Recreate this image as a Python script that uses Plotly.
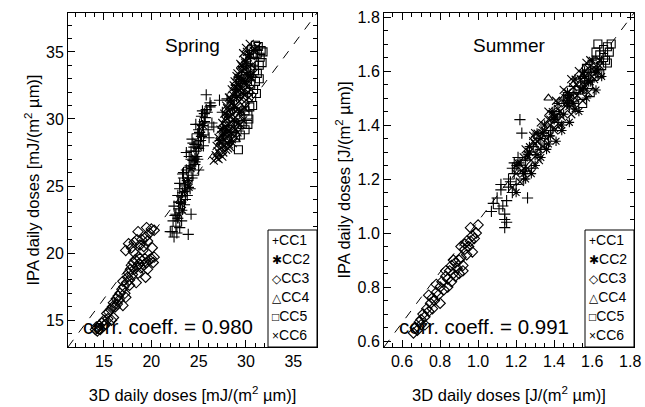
import plotly.graph_objects as go

# ---------------- data ----------------
series_names = ["CC1", "CC2", "CC3", "CC4", "CC5", "CC6"]
symbols = ["cross-thin-open", "asterisk-open", "diamond-open", "triangle-up-open", "square-open", "x-thin-open"]
legend_glyphs = ["+", "\u2731", "\u25C7", "\u25B3", "\u25A1", "\u00D7"]

spring_x_range = [11.2, 37.5]
spring_y_range = [13.0, 37.9]
summer_x_range = [0.505, 1.82]
summer_y_range = [0.578, 1.815]

spring_cc1_x = [22.4, 22.6, 22.8, 22.7, 23.0, 23.1, 23.2, 23.3, 23.0, 23.5, 23.6, 23.4, 23.8, 23.9, 24.0, 24.1, 24.2, 23.7,
                24.4, 24.5, 24.3, 24.6, 24.8, 24.9, 25.0, 24.7, 25.2, 25.3, 25.1, 25.5, 25.4, 25.6, 25.8, 25.7, 26.0, 26.2,
                26.4, 26.1, 25.9, 26.6, 27.2, 23.9, 22.9, 24.2, 25.0, 27.5, 28.0, 28.4, 29.0, 29.5, 30.0, 28.8, 27.8,
                22.5, 23.4, 24.0, 24.4, 25.1, 25.6, 26.3, 22.2, 23.0,
                22.0, 22.3, 22.6, 22.9, 23.2, 23.5, 23.8, 24.1, 24.4, 24.7, 25.0, 25.3, 25.6, 22.4, 22.8, 23.3, 23.7, 24.2,
                24.6, 25.0, 25.4, 25.8, 26.2, 23.0, 23.6, 24.3, 24.9, 25.5]
spring_cc1_y = [21.2, 22.0, 22.6, 21.5, 23.0, 23.8, 22.4, 24.5, 25.2, 23.6, 25.0, 26.0, 24.3, 25.6, 26.4, 24.8, 27.0, 27.5,
                25.8, 27.9, 28.5, 26.6, 27.2, 28.9, 27.8, 29.6, 28.4, 30.2, 29.0, 28.8, 30.6, 29.8, 31.8, 30.1, 29.2, 30.9,
                29.7, 28.6, 30.5, 29.4, 31.4, 21.4, 23.3, 22.9, 26.2, 30.5, 31.5, 29.0, 32.5, 33.0, 34.0, 30.8, 28.2,
                22.8, 25.6, 27.2, 28.2, 29.6, 30.4, 31.0, 21.6, 21.9,
                21.6, 22.4, 22.9, 23.8, 24.2, 25.1, 25.4, 26.5, 26.9, 27.6, 28.3, 28.7, 29.8, 23.5, 24.3, 25.9, 26.2, 27.6,
                28.1, 29.2, 29.5, 30.7, 31.2, 24.8, 24.0, 25.6, 27.0, 28.0]
spring_cc2_x = [22.8, 23.1, 23.5, 23.9, 24.2, 24.6, 25.0, 25.3, 23.3, 24.0, 24.7, 25.5, 27.6, 28.1, 28.6, 29.0, 29.4, 28.3,
                28.8, 29.3, 29.7, 30.2, 27.9, 29.9, 27.2, 27.5, 28.0, 28.4, 28.9, 29.2, 29.6, 30.0, 30.3, 30.6]
spring_cc2_y = [22.6, 23.7, 24.6, 25.4, 26.3, 27.1, 27.9, 28.8, 23.2, 24.9, 26.8, 29.5, 28.8, 29.5, 30.8, 31.6, 32.4, 28.3,
                29.8, 30.5, 31.9, 33.3, 29.2, 32.8, 28.4, 29.3, 30.3, 31.4, 32.2, 33.1, 33.9, 34.3, 34.8, 33.1]
spring_cc3_x = [14.1, 14.3, 14.3, 14.5, 14.2, 14.6, 14.8, 15.0, 15.2, 15.3, 15.5, 15.4, 15.7, 15.9, 15.8, 16.0, 16.2, 16.3,
                16.5, 16.4, 16.7, 16.9, 16.6, 17.0, 17.1, 17.2, 17.4, 17.5, 17.3, 17.6, 17.8, 17.7, 17.9, 18.0, 18.1, 18.2,
                18.3, 18.4, 18.5, 18.6, 18.7, 18.8, 18.9, 19.0, 19.2, 19.3, 19.5, 19.6, 19.8, 20.0, 20.2, 20.3, 19.4, 17.0,
                17.3, 17.6, 17.9, 18.2, 18.5, 18.8, 19.0, 19.2, 19.4, 19.6, 19.8, 20.0, 20.3, 18.6, 19.5, 18.1, 19.1, 20.1,
                16.0, 15.0, 17.7, 27.4, 28.0]
spring_cc3_y = [14.3, 14.2, 14.4, 14.6, 14.5, 14.3, 14.8, 15.0, 14.7, 15.5, 15.6, 15.1, 15.8, 16.0, 15.0, 16.3, 16.0, 16.6,
                16.8, 16.2, 17.0, 17.3, 16.5, 16.1, 17.5, 17.0, 17.8, 18.2, 16.7, 18.5, 18.8, 18.0, 19.1, 18.4, 19.3, 18.8,
                19.5, 17.8, 19.0, 18.5, 19.2, 19.6, 18.9, 19.4, 19.1, 19.6, 19.3, 18.8, 19.5, 19.6, 19.3, 19.7, 18.2, 17.9,
                20.2, 20.7, 20.4, 20.8, 21.0, 20.6, 21.0, 20.5, 21.2, 20.9, 21.5, 21.8, 21.7, 21.6, 21.9, 20.1, 20.2, 20.4,
                15.2, 14.6, 17.6, 27.5, 28.6]
spring_cc4_x = [28.3, 29.0, 29.6, 28.7, 30.0, 27.9]
spring_cc4_y = [30.5, 31.9, 32.8, 29.2, 33.6, 29.9]
spring_cc5_x = [29.2, 29.6, 29.9, 30.2, 30.4, 30.6, 30.8, 31.0, 31.2, 31.4, 31.5, 31.6, 31.3, 30.9, 30.5, 30.1, 29.9, 30.3,
                30.7, 31.1, 31.7, 31.0, 30.6, 29.4, 30.2, 31.4, 31.8, 28.9, 30.5, 30.9, 31.2, 30.8]
spring_cc5_y = [27.7, 29.6, 29.2, 30.3, 30.9, 31.6, 32.2, 32.8, 33.4, 34.0, 34.6, 35.1, 35.4, 34.3, 33.8, 33.0, 30.6, 30.0,
                31.0, 31.9, 34.2, 35.5, 35.2, 28.8, 29.6, 33.0, 35.0, 28.6, 32.6, 33.6, 34.9, 34.8]
spring_cc6_x = [26.6, 26.9, 27.2, 27.0, 27.3, 27.6, 26.9, 27.4, 27.8, 28.2, 27.1, 27.6, 28.0, 28.5, 27.3, 27.8, 28.2, 28.7,
                29.1, 27.5, 28.0, 28.4, 28.9, 29.4, 27.7, 28.1, 28.6, 29.1, 29.5, 27.9, 28.4, 28.8, 29.3, 29.8, 28.2, 28.6,
                29.1, 29.5, 30.0, 28.5, 28.9, 29.4, 29.8, 30.2, 28.8, 29.2, 29.7, 30.1, 29.1, 29.6, 30.0, 30.4, 29.5, 29.9,
                30.3,
                26.8, 27.1, 27.5, 27.9, 28.3, 27.2, 27.7, 28.1, 28.6, 29.0, 27.4, 27.9, 28.4, 28.9, 29.3, 27.8, 28.3, 28.7,
                29.2, 29.7, 28.0, 28.5, 29.0, 29.5, 29.9, 28.4, 28.9, 29.3, 29.8, 30.3, 28.7, 29.2, 29.6, 30.1, 30.5, 29.0,
                29.4, 29.9, 30.4, 30.8, 29.4, 29.8, 30.2, 30.6, 29.7, 30.1, 30.5, 30.9, 30.0, 30.4, 30.8, 31.2]
spring_cc6_y = [26.9, 27.1, 27.4, 27.6, 27.9, 27.5, 28.0, 28.2, 28.4, 28.1, 28.6, 28.9, 28.7, 28.5, 29.2, 29.4, 29.1, 29.3,
                29.0, 29.7, 30.0, 29.8, 30.1, 29.6, 30.4, 30.6, 30.3, 30.7, 30.2, 31.0, 31.2, 31.0, 31.3, 30.9, 31.6, 31.8,
                31.7, 31.5, 31.4, 32.2, 32.4, 32.3, 32.1, 32.0, 32.8, 33.0, 32.9, 32.6, 33.4, 33.6, 33.3, 33.1, 34.0, 34.2,
                33.9,
                27.3, 27.0, 27.2, 27.7, 27.9, 28.3, 28.0, 27.8, 28.2, 28.6, 28.8, 29.0, 28.9, 29.2, 29.5, 29.9, 30.2, 30.0,
                29.7, 29.9, 30.8, 31.1, 30.9, 30.6, 30.8, 31.5, 31.9, 32.1, 31.8, 31.6, 32.5, 32.7, 32.8, 32.4, 32.2, 33.2,
                33.5, 33.7, 33.2, 33.4, 34.1, 34.4, 34.6, 34.0, 34.9, 35.0, 34.7, 35.2, 35.3, 35.6, 35.1, 35.4]

summer_cc1_x = [1.07, 1.08, 1.10, 1.11, 1.12, 1.13, 1.14, 1.14, 1.14, 1.15, 1.15, 1.16, 1.17, 1.18, 1.19, 1.20, 1.21, 1.22,
                1.23, 1.24, 1.25, 1.26, 1.27, 1.28, 1.30, 1.32, 1.35, 1.38, 1.40, 1.42, 1.45, 1.48, 1.50, 1.16, 1.19, 1.25,
                1.29, 1.33, 1.37, 1.43, 1.47, 1.21, 1.12, 1.18]
summer_cc1_y = [1.08, 1.11, 1.13, 1.09, 1.16, 1.10, 1.02, 1.05, 1.07, 1.04, 1.12, 1.17, 1.19, 1.15, 1.22, 1.18, 1.25, 1.42,
                1.37, 1.20, 1.27, 1.13, 1.30, 1.24, 1.29, 1.35, 1.33, 1.38, 1.45, 1.41, 1.50, 1.47, 1.52, 1.20, 1.26, 1.23,
                1.32, 1.31, 1.36, 1.44, 1.49, 1.28, 1.18, 1.24]
summer_cc2_x = [1.20, 1.24, 1.27, 1.31, 1.34, 1.37, 1.41, 1.44, 1.47, 1.51, 1.55, 1.58, 1.61, 1.26, 1.33, 1.40, 1.48, 1.56,
                1.20, 1.22, 1.25, 1.27, 1.28, 1.30, 1.31, 1.33, 1.35, 1.36, 1.38, 1.39, 1.41, 1.42, 1.44, 1.45, 1.47, 1.48,
                1.50, 1.51, 1.53, 1.54, 1.56, 1.57, 1.59, 1.60, 1.62, 1.63, 1.65]
summer_cc2_y = [1.25, 1.22, 1.32, 1.29, 1.37, 1.33, 1.43, 1.40, 1.48, 1.46, 1.53, 1.56, 1.60, 1.29, 1.35, 1.42, 1.51, 1.58,
                1.15, 1.26, 1.20, 1.30, 1.22, 1.25, 1.37, 1.28, 1.40, 1.31, 1.36, 1.45, 1.34, 1.48, 1.38, 1.44, 1.52, 1.41,
                1.48, 1.57, 1.45, 1.53, 1.60, 1.50, 1.56, 1.64, 1.53, 1.60, 1.58]
summer_cc3_x = [0.66, 0.67, 0.68, 0.69, 0.70, 0.71, 0.72, 0.73, 0.74, 0.75, 0.76, 0.77, 0.78, 0.79, 0.80, 0.81, 0.82, 0.83,
                0.84, 0.85, 0.86, 0.87, 0.88, 0.89, 0.90, 0.91, 0.92, 0.93, 0.94, 0.95, 0.96, 0.97, 0.98, 0.99, 1.00, 0.72,
                0.76, 0.80, 0.84, 0.88, 0.92, 0.96, 0.70, 0.83, 0.87, 0.91, 0.94, 0.97, 0.78, 0.74, 0.86, 0.90, 0.93]
summer_cc3_y = [0.63, 0.65, 0.64, 0.67, 0.66, 0.70, 0.69, 0.72, 0.71, 0.74, 0.76, 0.75, 0.78, 0.77, 0.80, 0.82, 0.79, 0.84,
                0.83, 0.86, 0.88, 0.85, 0.89, 0.87, 0.90, 0.91, 0.88, 0.94, 0.92, 0.95, 0.97, 0.93, 0.98, 1.00, 1.03, 0.66,
                0.72, 0.74, 0.80, 0.84, 0.86, 1.02, 0.68, 0.86, 0.90, 0.95, 0.97, 0.99, 0.81, 0.77, 0.82, 0.85, 0.96]
summer_cc4_x = [1.37, 1.45, 1.50, 1.55, 1.48]
summer_cc4_y = [1.50, 1.50, 1.55, 1.58, 1.49]
summer_cc5_x = [1.50, 1.53, 1.56, 1.58, 1.60, 1.62, 1.64, 1.66, 1.68, 1.70, 1.65, 1.61, 1.57, 1.67, 1.69, 1.63, 1.59, 1.55,
                1.66, 1.62, 1.68, 1.64]
summer_cc5_y = [1.50, 1.53, 1.57, 1.55, 1.60, 1.63, 1.66, 1.68, 1.69, 1.70, 1.62, 1.58, 1.61, 1.64, 1.67, 1.70, 1.52, 1.48,
                1.65, 1.67, 1.63, 1.59]
summer_cc6_x = [1.18, 1.20, 1.22, 1.21, 1.24, 1.26, 1.25, 1.28, 1.30, 1.29, 1.32, 1.34, 1.33, 1.36, 1.38, 1.37, 1.40, 1.42,
                1.41, 1.44, 1.46, 1.45, 1.48, 1.50, 1.49, 1.52, 1.54, 1.53, 1.56, 1.58, 1.57, 1.60, 1.62, 1.23, 1.27, 1.31,
                1.35, 1.39, 1.43, 1.47, 1.51, 1.55, 1.59, 1.63, 1.30, 1.38, 1.46, 1.54,
                1.26, 1.29, 1.34, 1.37, 1.40, 1.43, 1.46, 1.49, 1.52, 1.55, 1.58, 1.61, 1.64, 1.24, 1.32, 1.40, 1.48, 1.56,
                1.64]
summer_cc6_y = [1.17, 1.22, 1.19, 1.26, 1.24, 1.28, 1.31, 1.27, 1.33, 1.36, 1.31, 1.38, 1.41, 1.35, 1.42, 1.45, 1.39, 1.46,
                1.49, 1.43, 1.50, 1.53, 1.47, 1.54, 1.57, 1.51, 1.57, 1.60, 1.55, 1.61, 1.63, 1.58, 1.62, 1.23, 1.30, 1.34,
                1.38, 1.44, 1.45, 1.52, 1.50, 1.59, 1.64, 1.60, 1.37, 1.40, 1.48, 1.53,
                1.24, 1.34, 1.32, 1.42, 1.43, 1.40, 1.47, 1.44, 1.55, 1.49, 1.52, 1.57, 1.62, 1.28, 1.27, 1.38, 1.50, 1.54,
                1.64]

spring_corr = "0.980"
summer_corr = "0.991"

spring_x = [spring_cc1_x, spring_cc2_x, spring_cc3_x, spring_cc4_x, spring_cc5_x, spring_cc6_x]
spring_y = [spring_cc1_y, spring_cc2_y, spring_cc3_y, spring_cc4_y, spring_cc5_y, spring_cc6_y]
summer_x = [summer_cc1_x, summer_cc2_x, summer_cc3_x, summer_cc4_x, summer_cc5_x, summer_cc6_x]
summer_y = [summer_cc1_y, summer_cc2_y, summer_cc3_y, summer_cc4_y, summer_cc5_y, summer_cc6_y]

# ---------------- figure ----------------
FONT = "Liberation Sans, Arial, Helvetica, DejaVu Sans, sans-serif"
W, H = 645, 407
ML, MR, MT, MB = 68, 11, 13, 60
PLOT_W = W - ML - MR
PLOT_H = H - MT - MB

fig = go.Figure()
for i, name in enumerate(series_names):
    for px, py, xa, ya in [(spring_x, spring_y, "x", "y"), (summer_x, summer_y, "x2", "y2")]:
        fig.add_trace(go.Scatter(
            x=px[i], y=py[i], mode="markers", name=name, xaxis=xa, yaxis=ya, showlegend=False,
            marker=dict(symbol=symbols[i], size=8, color="black",
                        line=dict(color="black", width=1.1)),
        ))

left_dom = [0.0, 249 / PLOT_W]
right_dom = [316 / PLOT_W, 1.0]


def axis_common(rng, dtick, minor_n):
    return dict(range=rng, dtick=dtick, showline=True, linecolor="black", linewidth=1,
                mirror="allticks", ticks="inside", ticklen=7, tickcolor="black",
                minor=dict(ticks="inside", ticklen=4, nticks=minor_n, tickcolor="black"),
                showgrid=False, zeroline=False, automargin=False, ticklabeloverflow="allow",
                tickfont=dict(size=16, family=FONT, color="black"))


TITLE_FONT = dict(size=16.5, family=FONT, color="black")
xa1 = axis_common(spring_x_range, 5, 5)
xa1.update(domain=left_dom, anchor="y",
           title=dict(text="3D daily doses [mJ/(m<sup>2</sup> µm)]", font=TITLE_FONT, standoff=20))
ya1 = axis_common(spring_y_range, 5, 5)
ya1.update(anchor="x", title=dict(text="IPA daily doses [mJ/(m<sup>2</sup> µm)]", font=TITLE_FONT, standoff=2))
xa2 = axis_common(summer_x_range, 0.2, 4)
xa2.update(domain=right_dom, anchor="y2", tickformat=".1f",
           title=dict(text="3D daily doses [J/(m<sup>2</sup> µm)]", font=TITLE_FONT, standoff=20))
ya2 = axis_common(summer_y_range, 0.2, 4)
ya2.update(anchor="x2", tickformat=".1f",
           title=dict(text="IPA daily doses [J/(m<sup>2</sup> µm)]", font=TITLE_FONT, standoff=2))

# legend box geometry (pixels)
LEG_W, LEG_H, ROW_H, ROW0 = 49, 117, 19, 10

shapes = []
annotations = []
for xr, yr, season, corr, dom in [("x", "y", "Spring", spring_corr, left_dom),
                                  ("x2", "y2", "Summer", summer_corr, right_dom)]:
    pw = (dom[1] - dom[0]) * PLOT_W
    xd, yd = xr + " domain", yr + " domain"
    shapes.append(dict(type="line", xref=xd, yref=yd, x0=0, y0=0, x1=1, y1=1,
                       line=dict(color="black", width=1, dash="dash")))
    shapes.append(dict(type="rect", xref=xd, yref=yd, x0=1 - LEG_W / pw, y0=0, x1=1, y1=LEG_H / PLOT_H,
                       line=dict(color="black", width=1), fillcolor="white", layer="above"))
    for k, (g, n) in enumerate(zip(legend_glyphs, series_names)):
        annotations.append(dict(text='<span style="font-size:12px">' + g + "</span>" + n,
                                xref=xd, yref=yd, x=1 - (LEG_W - 2) / pw,
                                y=(LEG_H - ROW0 - ROW_H * k) / PLOT_H, xanchor="left", yanchor="middle",
                                showarrow=False, font=dict(size=14, family=FONT, color="black")))
    annotations.append(dict(text=season, xref=xd, yref=yd, x=0.5, y=0.941,
                            showarrow=False, font=dict(size=19, family=FONT, color="black")))
    annotations.append(dict(text="corr. coeff. = " + corr, xref=xd, yref=yd,
                            x=0.052, y=0.02, xanchor="left", yanchor="bottom", showarrow=False,
                            font=dict(size=20.5, family=FONT, color="black")))

fig.update_layout(
    width=W, height=H, margin=dict(l=ML, r=MR, t=MT, b=MB),
    paper_bgcolor="white", plot_bgcolor="white",
    xaxis=xa1, yaxis=ya1, xaxis2=xa2, yaxis2=ya2,
    shapes=shapes, annotations=annotations,
    font=dict(family=FONT, color="black"),
    showlegend=False,
)

fig.write_html("out.html", config={"displayModeBar": False},
               post_script="document.body.style.margin='0';document.body.style.overflow='hidden';")
